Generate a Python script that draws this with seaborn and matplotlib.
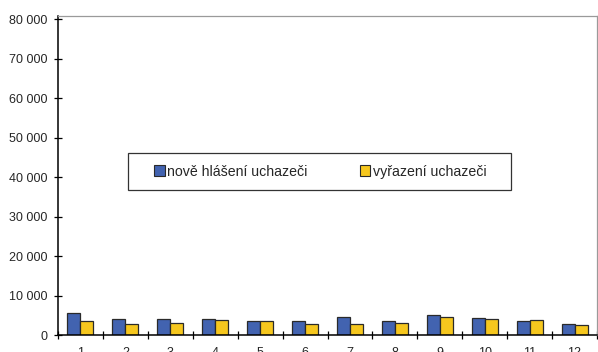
import matplotlib
matplotlib.use("Agg")
import matplotlib.pyplot as plt
from matplotlib.ticker import FuncFormatter, FixedLocator, MultipleLocator
from matplotlib.patches import Patch, Rectangle
import seaborn as sns
import pandas as pd

# monthly counts of job seekers
months = ["1", "2", "3", "4", "5", "6", "7", "8", "9", "10", "11", "12"]
new_registered = [5570, 4050, 3950, 3950, 3620, 3540, 4640, 3540, 5060, 4300, 3540, 2780]
removed = [3540, 2870, 3120, 3800, 3620, 2780, 2870, 3040, 4640, 4050, 3710, 2530]
series_names = ["nově hlášení uchazeči", "vyřazení uchazeči"]
y_ticks = [0, 10000, 20000, 30000, 40000, 50000, 60000, 70000, 80000]

df = pd.DataFrame({
    "month": months * 2,
    "value": new_registered + removed,
    "series": [series_names[0]] * len(months) + [series_names[1]] * len(months),
})

sns.set_style("white")
plt.rcParams["font.family"] = ["Liberation Sans", "DejaVu Sans"]

W, H = 598, 352
fig = plt.figure(figsize=(W / 100, H / 100), dpi=100)
ax = fig.add_axes([58 / W, 1 - 335 / H, 539 / W, 319 / H])

palette = {series_names[0]: "#4263B0", series_names[1]: "#F6C71E"}
sns.barplot(data=df, x="month", y="value", hue="series", order=months,
            hue_order=series_names, palette=palette, width=0.58,
            edgecolor="#2a2a2a", linewidth=0.9, saturation=1, ax=ax,
            legend=False)

ax.set_xlim(-0.5, len(months) - 0.5)
ax.set_ylim(0, 80800)
ax.set_xlabel("")
ax.set_ylabel("")

ax.yaxis.set_major_locator(FixedLocator(y_ticks))
ax.yaxis.set_major_formatter(FuncFormatter(lambda v, p: f"{int(v):,}".replace(",", " ")))
ax.tick_params(axis="y", direction="inout", length=6, width=0.9, color="black",
               labelsize=9, pad=4.5, left=True)

# month labels centred, ticks on category boundaries
ax.tick_params(axis="x", which="major", length=0, labelsize=9, pad=9)
ax.xaxis.set_minor_locator(MultipleLocator(1, offset=0.5))
ax.tick_params(axis="x", which="minor", direction="inout", length=6, width=0.9,
               color="black", bottom=True)

for side in ("left", "bottom"):
    ax.spines[side].set_color("black")
    ax.spines[side].set_linewidth(1.1)
for side in ("top", "right"):
    ax.spines[side].set_color("#9a9a9a")
    ax.spines[side].set_linewidth(0.9)

# legend box inside the plot area
box = Rectangle((128 / W, 1 - 190 / H), 383 / W, 37 / H, transform=fig.transFigure,
                facecolor="white", edgecolor="#333333", linewidth=0.9, zorder=5)
fig.add_artist(box)

handles = [Patch(facecolor=palette[n], edgecolor="#2a2a2a", linewidth=0.8) for n in series_names]
leg = fig.legend(handles, series_names, loc="center",
                 bbox_to_anchor=((128 + 511) / 2 / W + 0.002, 1 - 171.5 / H),
                 ncol=2, frameon=False, fontsize=10.2,
                 handlelength=0.72, handleheight=0.72, handletextpad=0.2,
                 columnspacing=3.7, borderpad=0.0)
leg.set_zorder(6)

fig.savefig("out.png", dpi=100, facecolor="white")
